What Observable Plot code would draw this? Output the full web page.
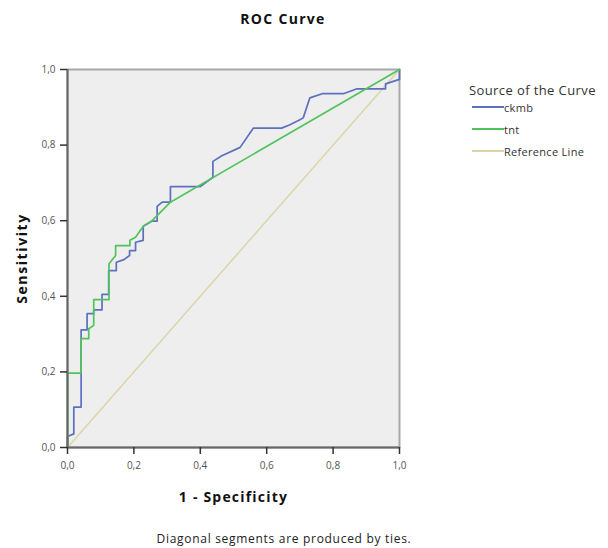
<!DOCTYPE html>
<html><head><meta charset="utf-8">
<script src="https://cdn.jsdelivr.net/npm/d3@7"></script>
<script src="https://cdn.jsdelivr.net/npm/@observablehq/plot@0.6"></script>
<style>
body{margin:0;background:#fff;font-family:"Open Sans",sans-serif;}
#wrap{position:relative;width:608px;height:548px;}
#wrap svg{position:absolute;left:0;top:0;}
.abs{position:absolute;white-space:nowrap;}
#title{left:0;width:566px;top:9px;text-align:center;font-weight:bold;font-size:14px;color:#111;letter-spacing:1.3px;}
#foot{left:0;width:568px;top:530px;text-align:center;font-size:12px;color:#222;letter-spacing:0.7px;}
#legend{left:469px;top:81px;font-size:13px;color:#333;}
#legend .ttl{margin-bottom:-3px;letter-spacing:0.4px;}
#legend .item{display:flex;align-items:center;height:22px;font-size:11px;color:#333;letter-spacing:0.3px;}
#legend .item svg{position:static;margin-right:0px;}
</style></head><body><div id="wrap"></div><script>
// ---- data ----
const ckmbFpr = [0, 0, 0.019, 0.019, 0.041, 0.041, 0.059, 0.059, 0.079, 0.079, 0.104, 0.104, 0.124, 0.124, 0.147, 0.147, 0.170, 0.187, 0.187, 0.205, 0.205, 0.228, 0.228, 0.255, 0.270, 0.270, 0.285, 0.310, 0.310, 0.400, 0.438, 0.438, 0.465, 0.520, 0.560, 0.645, 0.670, 0.700, 0.710, 0.730, 0.767, 0.831, 0.872, 0.958, 0.958, 1.0, 1.0];
const ckmbTpr = [0, 0.029, 0.036, 0.107, 0.107, 0.311, 0.311, 0.354, 0.354, 0.364, 0.364, 0.405, 0.405, 0.468, 0.468, 0.490, 0.497, 0.508, 0.521, 0.521, 0.543, 0.548, 0.585, 0.599, 0.599, 0.638, 0.649, 0.649, 0.690, 0.690, 0.715, 0.757, 0.772, 0.794, 0.845, 0.845, 0.854, 0.867, 0.872, 0.925, 0.936, 0.936, 0.949, 0.949, 0.962, 0.974, 1.0];
const tntFpr = [0, 0, 0.041, 0.041, 0.064, 0.064, 0.079, 0.079, 0.125, 0.125, 0.145, 0.145, 0.188, 0.188, 0.205, 0.230, 0.255, 0.310, 1.0];
const tntTpr = [0, 0.197, 0.197, 0.288, 0.288, 0.314, 0.323, 0.391, 0.391, 0.486, 0.508, 0.534, 0.534, 0.548, 0.556, 0.587, 0.600, 0.649, 1.0];
const refFpr = [0, 1];
const refTpr = [0, 1];
const seriesNames = ["ckmb", "tnt", "Reference Line"];
const seriesColors = ["#5d70c0", "#52c35c", "#dbd5a8"];
const xTicks = [0, 0.2, 0.4, 0.6, 0.8, 1.0];
const yTicks = [0, 0.2, 0.4, 0.6, 0.8, 1.0];
const titleText = "ROC Curve";
const xLabel = "1 - Specificity";
const yLabel = "Sensitivity";
const legendTitle = "Source of the Curve";
const footText = "Diagonal segments are produced by ties.";

// ---- build rows ----
const toRows = (xs, ys, s) => xs.map((x, i) => ({fpr: x, tpr: ys[i], series: s}));
const refRows = toRows(refFpr, refTpr, "Reference Line");
const ckmbRows = toRows(ckmbFpr, ckmbTpr, "ckmb");
const tntRows = toRows(tntFpr, tntTpr, "tnt");
const fmt = d => d.toFixed(1).replace(".", ",");

const chart = Plot.plot({
  width: 608, height: 548,
  marginLeft: 67, marginRight: 209, marginTop: 69, marginBottom: 101,
  style: {fontFamily: "Open Sans, sans-serif", fontSize: "10px", color: "#555", background: "transparent"},
  x: {domain: [0, 1]},
  y: {domain: [0, 1]},
  color: {domain: seriesNames, range: seriesColors},
  marks: [
    Plot.frame({fill: "#eeeeee", stroke: "#a8a8a8", strokeWidth: 2}),
    Plot.line(refRows, {x: "fpr", y: "tpr", stroke: "series", strokeWidth: 1.5}),
    Plot.line(ckmbRows, {x: "fpr", y: "tpr", stroke: "series", strokeWidth: 1.7}),
    Plot.line(tntRows, {x: "fpr", y: "tpr", stroke: "series", strokeWidth: 1.7}),
    Plot.ruleX([0], {stroke: "#666", strokeWidth: 2}),
    Plot.ruleY([0], {stroke: "#666", strokeWidth: 2}),
    Plot.axisX({ticks: xTicks, tickFormat: fmt, tickSize: 7, tickPadding: 7, label: null, stroke: "#333", strokeWidth: 1.5, fill: "#555"}),
    Plot.axisY({ticks: yTicks, tickFormat: fmt, tickSize: 7, tickPadding: 5, label: null, stroke: "#333", strokeWidth: 1.5, fill: "#555"}),
    Plot.text([xLabel], {frameAnchor: "bottom", textAnchor: "middle", dy: 54, fontWeight: "bold", fontSize: 14, fill: "#111", text: d => d}),
    Plot.text([yLabel], {frameAnchor: "left", textAnchor: "middle", dx: -45, rotate: -90, fontWeight: "bold", fontSize: 14, fill: "#111", text: d => d})
  ]
});
chart.querySelectorAll("text").forEach(n => {
  if (n.textContent === xLabel) n.style.letterSpacing = "1.2px";
  if (n.textContent === yLabel) n.style.letterSpacing = "1.6px";
});
const wrap = document.getElementById("wrap");
wrap.appendChild(chart);

const t = document.createElement("div"); t.className = "abs"; t.id = "title"; t.textContent = titleText; wrap.appendChild(t);
const f = document.createElement("div"); f.className = "abs"; f.id = "foot"; f.textContent = footText; wrap.appendChild(f);
const lg = document.createElement("div"); lg.className = "abs"; lg.id = "legend";
const lt = document.createElement("div"); lt.className = "ttl"; lt.textContent = legendTitle; lg.appendChild(lt);
seriesNames.forEach((s, i) => {
  const it = document.createElement("div"); it.className = "item";
  const sw = d3.create("svg").attr("width", 35).attr("height", 6);
  sw.append("line").attr("x1", 3).attr("x2", 35).attr("y1", 3).attr("y2", 3).attr("stroke", seriesColors[i]).attr("stroke-width", 2);
  it.appendChild(sw.node());
  const sp = document.createElement("span"); sp.textContent = s; it.appendChild(sp);
  lg.appendChild(it);
});
wrap.appendChild(lg);
</script></body></html>
